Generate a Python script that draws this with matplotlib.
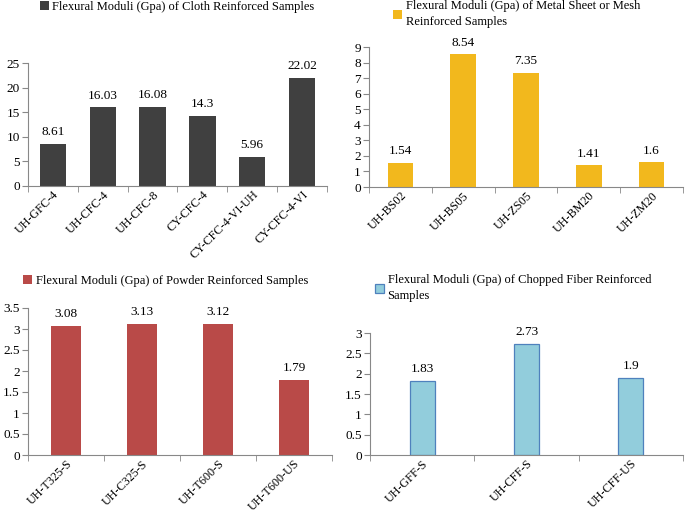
import matplotlib
matplotlib.use('Agg')
import matplotlib.pyplot as plt
import numpy as np

plt.rcParams['font.family'] = ['Liberation Serif', 'DejaVu Serif']
plt.rcParams['font.size'] = 9

# data
cloth_labels = ['UH-GFC-4', 'UH-CFC-4', 'UH-CFC-8', 'CY-CFC-4', 'CY-CFC-4-VI-UH', 'CY-CFC-4-VI']
cloth_vals = [8.61, 16.03, 16.08, 14.3, 5.96, 22.02]

metal_labels = ['UH-BS02', 'UH-BS05', 'UH-ZS05', 'UH-BM20', 'UH-ZM20']
metal_vals = [1.54, 8.54, 7.35, 1.41, 1.6]

powder_labels = ['UH-T325-S', 'UH-C325-S', 'UH-T600-S', 'UH-T600-US']
powder_vals = [3.08, 3.13, 3.12, 1.79]

fiber_labels = ['UH-GFF-S', 'UH-CFF-S', 'UH-CFF-US']
fiber_vals = [1.83, 2.73, 1.9]

W, H = 685, 515
fig = plt.figure(figsize=(W / 100, H / 100), dpi=100)


def px_axes(x0, x1, y_top, y_bot):
    return fig.add_axes([x0 / W, 1 - y_bot / H, (x1 - x0) / W, (y_bot - y_top) / H])


def draw(ax, labels, vals, ymax, step, width, color, edge, legend_text, leg_xy):
    x = np.arange(len(labels))
    ax.bar(x, vals, width=width, color=color, edgecolor=edge,
           linewidth=0.9 if edge != 'none' else 0, label=legend_text, zorder=2)
    for xi, v in zip(x, vals):
        ax.annotate(f'{v:g}', (xi, v), xytext=(0, 4), textcoords='offset points',
                    ha='center', va='bottom', fontsize=9.5)
    ax.set_xlim(-0.5, len(labels) - 0.5)
    ax.set_ylim(0, ymax)
    yt = np.arange(0, ymax + step / 2, step)
    ax.set_yticks(yt)
    ax.set_yticklabels([f'{t:g}' for t in yt], fontsize=9.5)
    ax.set_xticks(x)
    ax.set_xticklabels(labels, rotation=45, ha='right', va='top',
                       rotation_mode='anchor', fontsize=8.7)
    ax.set_xticks(np.arange(-0.5, len(labels)), minor=True)
    ax.tick_params(axis='x', which='major', length=0, pad=2)
    ax.tick_params(axis='x', which='minor', length=4, color='#888888', direction='out')
    ax.tick_params(axis='y', length=4, color='#888888', pad=2)
    for s in ['top', 'right']:
        ax.spines[s].set_visible(False)
    for s in ['left', 'bottom']:
        ax.spines[s].set_color('#888888')
        ax.spines[s].set_linewidth(0.8)
    leg = ax.legend(loc='upper left', bbox_to_anchor=(leg_xy[0] / W, 1 - leg_xy[1] / H),
                    bbox_transform=fig.transFigure, frameon=False, handlelength=0.7,
                    handleheight=0.7, handletextpad=0.3, borderpad=0, borderaxespad=0,
                    fontsize=9)
    for t in leg.get_texts():
        t.set_linespacing(1.5)


ax1 = px_axes(28, 327, 63, 186)
draw(ax1, cloth_labels, cloth_vals, 25, 5, 0.53, '#404040', 'none',
     'Flexural Moduli (Gpa) of Cloth Reinforced Samples', (40, 1))

ax2 = px_axes(369, 683, 47, 187)
draw(ax2, metal_labels, metal_vals, 9, 1, 0.41, '#F2B81D', 'none',
     'Flexural Moduli (Gpa) of Metal Sheet or Mesh\nReinforced Samples', (393, 0))

ax3 = px_axes(28, 332, 308, 455)
draw(ax3, powder_labels, powder_vals, 3.5, 0.5, 0.39, '#B94A48', 'none',
     'Flexural Moduli (Gpa) of Powder Reinforced Samples', (23, 275))

ax4 = px_axes(370, 683, 333, 455)
draw(ax4, fiber_labels, fiber_vals, 3, 0.5, 0.24, '#92CDDC', '#4F81BD',
     'Flexural Moduli (Gpa) of Chopped Fiber Reinforced\nSamples', (375, 274))

fig.savefig('out.png', dpi=100)
